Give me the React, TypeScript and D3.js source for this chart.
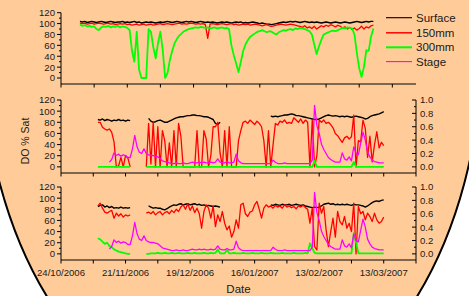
import React from "react";
import * as d3 from "d3";

// ---------- data ----------
const ORIGIN = new Date(2006, 9, 24); // 24/10/2006, first x tick
const TICK_STEP_DAYS = 14;
const P1_START_DAY = 8;
const P23_START_DAY = 16;
const P1_END_DAY = 150;
const P23_END_DAY = 154;

const seriesNames = ["Surface", "150mm", "300mm", "Stage"];
const seriesColors = ["#000000", "#ff0000", "#00ff00", "#ff00ff"];

const yTicks = [0, 20, 40, 60, 80, 100, 120];
const yMinorTicks = [10, 30, 50, 70, 90, 110];
const rTicks = [0, 0.2, 0.4, 0.6, 0.8, 1.0];
const rMinorTicks = [0.1, 0.3, 0.5, 0.7, 0.9];

// Panel 1 (daily from day 8)
const p1Surface = [
  104,103,104,102,103,104,103,102,103,104,
  103,102,103,104,103,102,103,103,104,102,
  103,102,103,104,102,103,101,102,103,102,
  103,102,101,102,103,102,103,104,103,102,
  103,104,103,102,103,104,103,104,103,102,
  103,104,103,102,103,102,103,102,101,102,
  103,102,103,102,101,102,103,102,103,101,
  102,101,102,103,102,101,100,101,100,99,
  99,98,99,100,101,102,103,102,103,104,
  103,104,103,102,103,104,103,102,103,102,
  103,102,101,102,103,102,101,102,103,102,
  101,102,103,102,101,102,103,104,103,102,
  103,104,103,104,104,
];
const p1Mm150 = [
  101,100,101,99,100,101,99,100,101,100,
  99,100,101,99,100,98,99,100,99,100,
  98,99,97,98,99,97,98,99,97,98,
  99,97,98,99,100,98,99,100,99,98,
  99,100,101,99,100,99,100,101,100,99,
  100,99,100,98,73,99,100,99,98,99,
  100,99,98,99,100,98,99,97,98,99,
  98,99,97,98,99,98,97,96,97,98,
  96,95,96,97,98,99,98,97,98,99,
  98,97,96,95,93,96,92,94,91,95,
  90,93,96,94,97,95,98,96,94,97,
  95,92,94,90,93,89,92,88,91,95,
  90,94,92,96,97,
];
const p1Mm300 = [
  98,96,97,95,96,94,95,90,88,93,
  95,94,96,93,95,94,96,93,95,94,
  92,88,50,30,85,15,0,0,0,90,
  85,57,36,64,85,51,0,9,33,50,
  64,72,78,82,86,88,90,91,92,93,
  92,94,93,92,93,91,92,93,91,92,
  93,91,92,90,60,42,27,11,30,50,
  62,70,76,79,82,85,86,88,86,84,
  86,85,82,80,84,86,88,87,89,90,
  88,91,90,92,91,90,88,86,80,62,
  44,58,70,80,82,84,86,87,86,88,
  90,92,91,93,92,91,80,46,18,2,
  20,51,50,76,91,
];

// Panels 2 and 3 (daily from day 16)
const stage = [
  null,null,null,null,null,0.07,0.11,0.21,0.17,0.19,
  0.16,0.18,0.17,0.14,0.14,0.27,0.47,0.3,0.22,0.2,
  0.27,0.2,0.18,0.17,0.17,0.16,0.15,0.12,0.09,0.08,
  0.07,0.06,0.05,0.05,0.06,0.05,0.05,0.06,0.05,0.05,
  0.06,0.07,0.06,0.06,0.07,0.06,0.07,0.06,0.06,0.07,
  0.06,0.07,0.12,0.07,0.06,0.06,0.08,0.06,0.06,0.07,
  0.19,0.09,0.06,0.05,0.05,0.05,0.05,0.05,0.05,0.05,
  0.05,0.05,0.05,0.05,0.05,0.05,0.1,0.07,0.05,0.05,
  0.05,0.06,0.05,0.05,0.05,0.05,0.05,0.05,0.05,0.05,
  0.05,0.05,0.05,0.1,0.92,0.62,0.5,0.34,0.26,0.2,
  0.14,0.11,0.09,0.07,0.07,0.07,0.21,0.12,0.1,0.15,
  0.09,0.3,0.2,0.18,0.35,0.52,0.4,0.22,0.15,0.1,
  0.08,0.07,0.06,0.06,0.06,
];

const p2Surface = [
  85,84,86,83,85,84,82,84,83,85,
  83,84,82,84,83,null,null,null,null,null,
  null,null,87,82,80,81,83,84,82,80,
  80,82,84,86,88,89,90,90,91,92,
  92,93,93,92,92,91,90,90,89,87,
  85,78,76,80,null,null,null,null,null,null,
  null,null,null,null,null,null,null,null,null,null,
  null,null,null,null,null,91,90,91,90,91,
  92,93,93,94,95,94,92,92,91,90,
  89,88,87,86,85,85,86,88,90,92,
  93,92,91,92,91,90,91,90,91,90,
  89,90,91,90,89,88,86,87,90,92,
  93,94,95,97,99,
];
const p2Mm150 = [
  80,80,71,68,66,68,62,45,0,2,
  17,0,20,16,0,null,null,null,null,null,
  null,0,78,5,80,0,72,0,65,47,
  0,43,0,65,0,78,55,0,0,0,
  0,0,0,65,0,0,65,50,0,20,
  72,72,80,25,0,65,0,72,0,0,
  0,47,65,80,82,78,84,80,76,82,
  78,72,47,0,65,0,40,78,75,82,
  80,84,78,80,78,88,84,80,86,78,
  84,80,0,84,0,20,84,80,84,78,
  80,76,70,60,56,50,44,52,55,50,
  54,93,0,47,45,84,69,17,55,9,
  40,63,34,44,38,
];
const p2Mm300 = [
  0,0,0,0,0,0,0,0,0,0,
  0,0,0,0,0,null,null,null,null,null,
  null,0,0,0,0,0,0,0,0,0,
  0,0,0,0,0,0,0,0,0,0,
  0,0,0,0,0,0,0,0,0,0,
  0,0,0,0,0,0,0,0,0,0,
  0,0,0,0,0,0,0,0,0,0,
  0,0,0,0,0,0,0,0,0,0,
  0,0,0,0,0,0,0,0,0,0,
  0,0,0,0,11,0,0,0,0,0,
  0,0,0,0,0,0,0,0,0,0,
  0,9,0,0,0,0,0,0,0,0,
  0,0,0,0,0,
];

const p3Surface = [
  85,87,88,84,86,83,85,82,83,82,
  84,82,83,82,83,null,null,null,null,null,
  null,null,86,84,82,83,82,82,80,79,
  81,84,86,88,87,89,90,88,89,90,
  88,89,90,88,89,87,88,86,87,86,
  85,86,85,84,null,null,null,null,null,null,
  null,null,null,null,null,null,null,null,null,null,
  null,null,null,null,null,88,87,89,88,87,
  89,88,88,89,87,88,89,88,87,88,
  86,85,84,83,84,83,84,86,89,90,
  91,89,90,88,89,88,89,88,89,88,
  87,89,88,88,87,86,84,86,89,92,
  94,95,94,96,97,
];
const p3Mm150 = [
  86,91,82,75,73,76,78,64,73,68,
  72,66,70,68,70,null,null,null,null,null,
  null,73,75,72,76,70,74,76,70,74,
  76,72,78,74,80,76,84,88,80,90,
  78,86,74,82,72,46,76,88,82,64,
  86,49,70,58,76,55,43,50,30,40,
  61,46,88,91,72,67,75,77,88,94,
  80,64,82,88,84,86,82,87,84,86,
  82,88,84,86,83,85,81,86,84,87,
  83,80,55,82,13,7,91,73,85,43,
  13,40,64,30,76,58,52,67,46,55,
  40,91,0,85,72,76,61,73,67,58,
  73,61,55,58,66,
];
const p3Mm300 = [
  28,26,22,18,20,14,12,8,6,4,
  3,2,1,0,0,null,null,null,null,null,
  null,0,0,1,1,1,2,1,1,2,
  1,1,2,1,1,2,1,1,1,2,
  1,1,2,1,1,1,2,1,1,2,
  1,2,8,1,1,1,7,1,1,2,
  1,1,1,2,1,1,1,2,1,1,
  1,2,1,1,1,2,1,1,1,1,
  2,1,1,1,1,2,1,1,1,1,
  2,1,19,10,2,1,1,1,1,1,
  1,1,1,1,1,1,1,1,1,1,
  1,37,20,1,1,1,1,1,1,1,
  1,1,1,1,1,
];

// ---------- layout ----------
const W = 469;
const H = 296;
const X0 = 61;
const X1 = 416;
const FONT = "'Liberation Sans', Arial, Helvetica, sans-serif";
const TEXT = "#1a1a1a";
const Y_MIN = -11;
const Y_MAX = 120;

type Panel = {
  top: number;
  bottom: number;
  endDay: number;
  startDay: number;
  series: (number | null)[][];
  stage: boolean;
  right: boolean;
  xLabels: boolean;
};

const panels: Panel[] = [
  { top: 12.7, bottom: 84, endDay: P1_END_DAY, startDay: P1_START_DAY, series: [p1Surface, p1Mm150, p1Mm300], stage: false, right: false, xLabels: false },
  { top: 100, bottom: 173, endDay: P23_END_DAY, startDay: P23_START_DAY, series: [p2Surface, p2Mm150, p2Mm300], stage: true, right: true, xLabels: false },
  { top: 187, bottom: 260, endDay: P23_END_DAY, startDay: P23_START_DAY, series: [p3Surface, p3Mm150, p3Mm300], stage: true, right: true, xLabels: true },
];

const fmtDate = d3.timeFormat("%d/%m/%Y");
const fmtR = d3.format(".1f");

function PanelView({ p }: { p: Panel }) {
  const x = d3
    .scaleTime()
    .domain([ORIGIN, d3.timeDay.offset(ORIGIN, p.endDay)])
    .range([X0, X1]);
  const y = d3.scaleLinear().domain([Y_MIN, Y_MAX]).range([p.bottom, p.top]);
  const yr = d3.scaleLinear().domain([Y_MIN / 120, Y_MAX / 120]).range([p.bottom, p.top]);
  const nTicks = Math.floor(p.endDay / TICK_STEP_DAYS);
  const xTicks = d3.range(0, nTicks + 1).map((k) => d3.timeDay.offset(ORIGIN, k * TICK_STEP_DAYS));
  const dateAt = (i: number) => d3.timeDay.offset(ORIGIN, p.startDay + i);

  const lineL = d3
    .line<number | null>()
    .defined((d) => d != null)
    .x((_, i) => x(dateAt(i)))
    .y((d) => y(d as number));
  const lineR = d3
    .line<number | null>()
    .defined((d) => d != null)
    .x((_, i) => x(dateAt(i)))
    .y((d) => yr(d as number));

  const widths = [1.4, 1.3, 1.8];

  return (
    <g>
      {p.series.map((s, k) => (
        <path key={k} d={lineL(s) || ""} fill="none" stroke={seriesColors[k]} strokeWidth={widths[k]} strokeLinejoin="round" />
      ))}
      {p.stage && <path d={lineR(stage) || ""} fill="none" stroke={seriesColors[3]} strokeWidth={1.3} strokeLinejoin="round" />}

      {/* left axis */}
      <line x1={X0} x2={X0} y1={p.top} y2={p.bottom} stroke="#000" strokeWidth={1} />
      {yTicks.map((t) => (
        <g key={"yt" + t}>
          <line x1={X0 - 4} x2={X0} y1={y(t)} y2={y(t)} stroke="#000" />
          <text x={X0 - 6} y={y(t) + 3.4} textAnchor="end" fontSize={9.6} fontFamily={FONT} fill={TEXT}>
            {t}
          </text>
        </g>
      ))}
      {yMinorTicks.map((t) => (
        <line key={"ym" + t} x1={X0 - 2} x2={X0} y1={y(t)} y2={y(t)} stroke="#000" />
      ))}

      {/* bottom axis */}
      <line x1={X0} x2={X1} y1={p.bottom} y2={p.bottom} stroke="#000" strokeWidth={1} />
      {xTicks.map((t, i) => (
        <g key={"xt" + i}>
          <line x1={x(t)} x2={x(t)} y1={p.bottom} y2={p.bottom + 3.5} stroke="#000" />
          {p.xLabels && i % 2 === 0 && (
            <text x={x(t)} y={p.bottom + 15.5} textAnchor="middle" fontSize={9.6} fontFamily={FONT} fill={TEXT}>
              {fmtDate(t)}
            </text>
          )}
        </g>
      ))}

      {/* right axis */}
      {p.right && (
        <g>
          <line x1={X1} x2={X1} y1={p.top} y2={p.bottom} stroke="#000" strokeWidth={1} />
          {rTicks.map((t) => (
            <g key={"rt" + t}>
              <line x1={X1 - 4} x2={X1} y1={yr(t)} y2={yr(t)} stroke="#000" />
              <text x={X1 + 4} y={yr(t) + 3.4} textAnchor="start" fontSize={9.6} fontFamily={FONT} fill={TEXT}>
                {fmtR(t)}
              </text>
            </g>
          ))}
          {rMinorTicks.map((t) => (
            <line key={"rm" + t} x1={X1 - 2} x2={X1} y1={yr(t)} y2={yr(t)} stroke="#000" />
          ))}
        </g>
      )}
    </g>
  );
}

export default function App() {
  const legendY = [17.7, 32.8, 47.3, 61.6];
  const legendW = [1.1, 1.5, 2, 1.1];
  return (
    <svg width={W} height={H} style={{ position: "absolute", left: 0, top: 0, display: "block" }}>
      <rect x={0} y={0} width={W} height={H} fill="#ffffff" />
      <ellipse cx={232} cy={45} rx={250} ry={374} fill="#ffcc99" stroke="#000" strokeWidth={2} />
      {panels.map((p, i) => (
        <PanelView key={i} p={p} />
      ))}
      {seriesNames.map((n, i) => (
        <g key={n}>
          <line x1={386} x2={412} y1={legendY[i]} y2={legendY[i]} stroke={seriesColors[i]} strokeWidth={legendW[i]} />
          <text x={416} y={legendY[i] + 4} fontSize={11.5} fontFamily={FONT} fill={TEXT}>
            {n}
          </text>
        </g>
      ))}
      <text
        transform={`translate(${29},${141}) rotate(-90)`}
        textAnchor="middle"
        fontSize={10.5}
        fontFamily={FONT}
        fill={TEXT}
      >
        DO % Sat
      </text>
      <text x={238.5} y={293} textAnchor="middle" fontSize={11.5} fontFamily={FONT} fill={TEXT}>
        Date
      </text>
    </svg>
  );
}
